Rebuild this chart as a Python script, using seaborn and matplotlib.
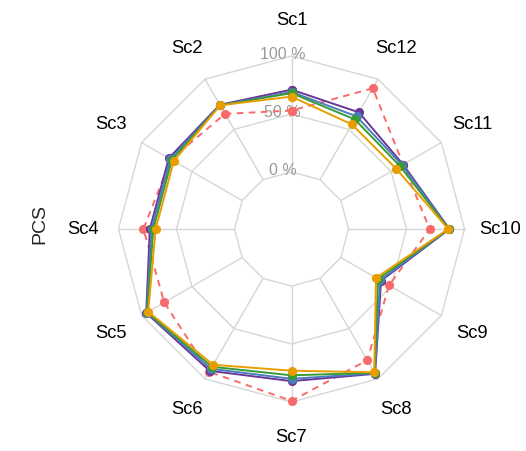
import numpy as np
import pandas as pd
import matplotlib.pyplot as plt
import seaborn as sns

# axes of the radar, in counter-clockwise order starting at the top
axes_labels = ['Sc1', 'Sc2', 'Sc3', 'Sc4', 'Sc5', 'Sc6',
               'Sc7', 'Sc8', 'Sc9', 'Sc10', 'Sc11', 'Sc12']

# PCS values (fraction of 100 %) per series, same order as axes_labels
red = [0.53, 0.655, 0.71, 0.785, 0.775, 0.93, 0.99, 0.815, 0.48, 0.70, 0.62, 0.91]
purple = [0.71, 0.745, 0.73, 0.73, 0.955, 0.92, 0.82, 0.95, 0.40, 0.87, 0.62, 0.67]
blue = [0.69, 0.74, 0.715, 0.715, 0.95, 0.90, 0.80, 0.945, 0.39, 0.865, 0.61, 0.63]
green = [0.68, 0.74, 0.70, 0.70, 0.945, 0.88, 0.77, 0.94, 0.37, 0.865, 0.59, 0.60]
orange = [0.65, 0.74, 0.68, 0.68, 0.935, 0.86, 0.73, 0.935, 0.35, 0.86, 0.55, 0.55]

series_names = ['red', 'purple', 'blue', 'green', 'orange']
series_values = [red, purple, blue, green, orange]
colours = {'red': '#F96A6A', 'purple': '#6A3699', 'blue': '#4A7EBB',
           'green': '#3A9A35', 'orange': '#E89E00'}

grid_levels = [0.0, 0.5, 1.0]
grid_labels = ['0 %', '50 %', '100 %']

n = len(axes_labels)
theta = np.arange(n) * 2 * np.pi / n
theta_closed = np.append(theta, 2 * np.pi)

rows = []
for name, vals in zip(series_names, series_values):
    vals_closed = list(vals) + [vals[0]]
    for t, v in zip(theta_closed, vals_closed):
        rows.append({'series': name, 'theta': t, 'value': v})
df = pd.DataFrame(rows)

sns.set_theme(style='white')
plt.rcParams['font.family'] = ['Liberation Sans', 'DejaVu Sans']

fig = plt.figure(figsize=(5.26, 4.51), dpi=100)
ax = fig.add_axes([0.2253, 0.1086, 0.6578, 0.7672], projection='polar')
ax.set_theta_offset(np.pi / 2)
ax.set_ylim(0, 1)
ax.set_rorigin(-0.4914)

# polygon grid and spokes
for lvl in grid_levels:
    ax.plot(theta_closed, [lvl] * (n + 1), color='#D6D6D6', lw=1.0,
            zorder=0, clip_on=False)
for t in theta:
    ax.plot([t, t], [0, 1], color='#D6D6D6', lw=1.0, zorder=0, clip_on=False)

for lvl, lab in zip(grid_levels, grid_labels):
    ax.annotate(lab, xy=(0, lvl), xytext=(-6.5, 1),
                textcoords='offset points', ha='center', va='center',
                color='#999999', fontsize=11.5, zorder=1)

sns.lineplot(data=df, x='theta', y='value', hue='series', style='series',
             hue_order=series_names, style_order=series_names,
             palette=colours,
             dashes={'red': (3.4, 2.8), 'purple': '', 'blue': '',
                     'green': '', 'orange': ''},
             markers={k: 'o' for k in series_names},
             markersize=6.6, markeredgewidth=0, linewidth=1.4,
             sort=False, estimator=None, legend=False, ax=ax, clip_on=False)

ax.set_xlabel('')
ax.set_ylabel('')
ax.grid(False)
ax.set_xticks([])
ax.set_yticks([])
for sp in ax.spines.values():
    sp.set_visible(False)
ax.set_frame_on(False)

for t, lab in zip(theta, axes_labels):
    ax.text(t, 1.31, lab, ha='center', va='center', fontsize=13.2,
            color='black', clip_on=False)

fig.text(40 / 526, 1 - 224 / 451, 'PCS', rotation=90, ha='center',
         va='center', fontsize=14)

fig.savefig('out.png', dpi=100)
